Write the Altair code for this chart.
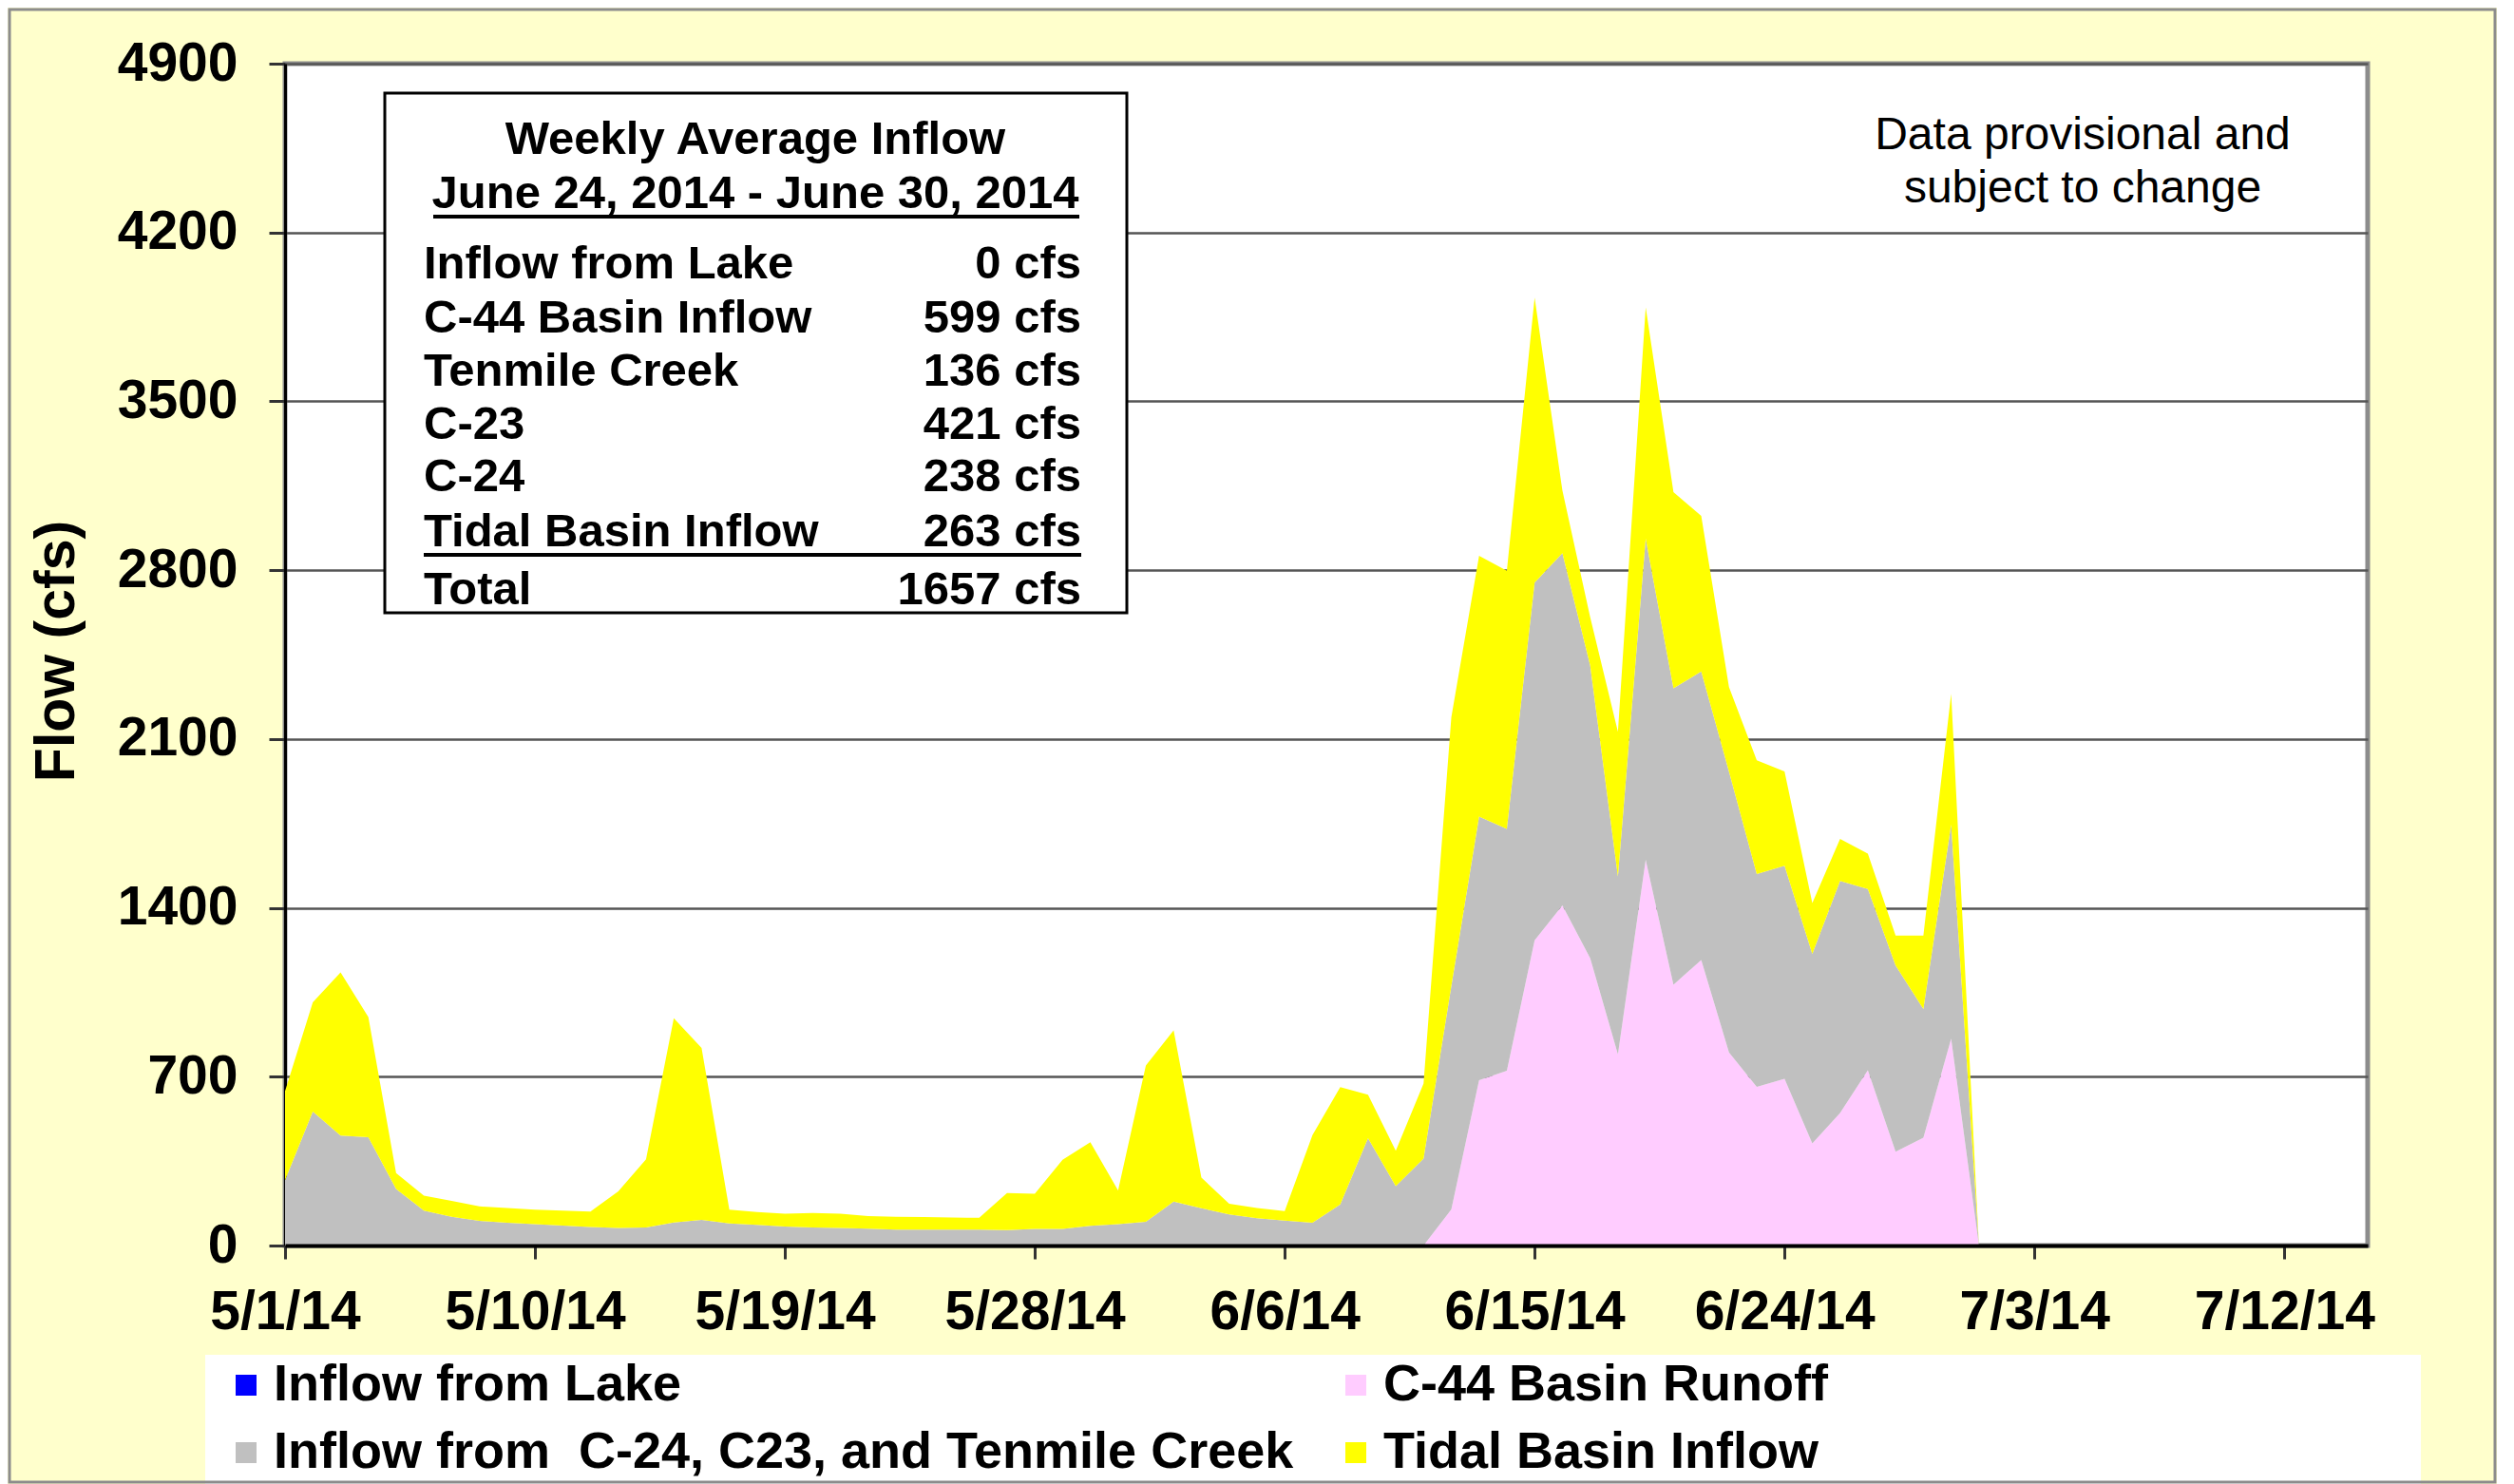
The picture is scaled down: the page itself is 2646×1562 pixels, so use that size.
import altair as alt
import pandas as pd

FONT = "Liberation Sans"

# ---------------- data ----------------
start_date = "2014-05-01"
n_days = 62

c44_runoff = [0, 0, 0, 0, 0, 0, 0, 0, 0, 0,
              0, 0, 0, 0, 0, 0, 0, 0, 0, 0,
              0, 0, 0, 0, 0, 0, 0, 0, 0, 0,
              0, 0, 0, 0, 0, 0, 0, 0, 0, 0,
              0, 0, 150, 685, 725, 1265, 1410, 1192, 793, 1599,
              1081, 1184, 801, 658, 691, 423, 549, 727, 389, 447,
              858, 0]
c24_c23_tenmile = [271, 555, 456, 449, 234, 145, 119, 102, 95, 89,
                   83, 77, 73, 75, 96, 106, 92, 86, 79, 75,
                   73, 70, 66, 66, 66, 66, 64, 69, 69, 82,
                   89, 98, 182, 155, 129, 113, 103, 95, 170, 445,
                   246, 360, 925, 1093, 1002, 1483, 1460, 1214, 737, 1332,
                   1229, 1196, 1164, 882, 884, 786, 963, 751, 772, 534,
                   887, 0]
tidal_inflow = [369, 453, 676, 498, 66, 62, 66, 60, 61, 60,
                62, 64, 152, 282, 846, 713, 57, 53, 53, 60,
                59, 52, 53, 52, 50, 49, 154, 146, 286, 346,
                139, 648, 710, 127, 44, 43, 40, 363, 487, 180,
                147, 312, 1115, 1082, 1071, 1182, 260, 200, 600, 959,
                814, 645, 350, 472, 391, 211, 174, 147, 124, 304,
                543, 0]
lake_inflow = [0, 0, 0, 0, 0, 0, 0, 0, 0, 0,
               0, 0, 0, 0, 0, 0, 0, 0, 0, 0,
               0, 0, 0, 0, 0, 0, 0, 0, 0, 0,
               0, 0, 0, 0, 0, 0, 0, 0, 0, 0,
               0, 0, 0, 0, 0, 0, 0, 0, 0, 0,
               0, 0, 0, 0, 0, 0, 0, 0, 0, 0,
               0, 0]

series_names = ["Inflow from Lake", "C-44 Basin Runoff",
                "Inflow from\u00a0 C-24, C23, and Tenmile Creek", "Tidal Basin Inflow"]
series_colors = ["#0000FF", "#FFCCFF", "#C0C0C0", "#FFFF00"]
stack_rank = [0, 1, 2, 3]

tick_dates = ["2014-05-01", "2014-05-10", "2014-05-19", "2014-05-28", "2014-06-06",
              "2014-06-15", "2014-06-24", "2014-07-03", "2014-07-12"]
x_domain = ["2014-05-01", "2014-07-15"]
y_ticks = [0, 700, 1400, 2100, 2800, 3500, 4200, 4900]

box_title = "Weekly Average Inflow"
box_period = "June 24, 2014 - June 30, 2014"
box_labels = ["Inflow from Lake", "C-44 Basin Inflow", "Tenmile Creek", "C-23", "C-24",
              "Tidal Basin Inflow", "Total"]
box_values = ["0 cfs", "599 cfs", "136 cfs", "421 cfs", "238 cfs", "263 cfs", "1657 cfs"]
note_lines = ["Data provisional and", "subject to change"]

# ---------------- build table ----------------
dates = pd.date_range(start_date, periods=n_days, freq="D")
series_values = [lake_inflow, c44_runoff, c24_c23_tenmile, tidal_inflow]
records = []
for name, rank, vals in zip(series_names, stack_rank, series_values):
    for d, v in zip(dates, vals):
        records.append({"date": d, "series": name, "rank": rank, "value": v})
df = pd.DataFrame(records)


def dt(s):
    y, m, d = (int(p) for p in s.split("-"))
    return alt.DateTime(year=y, month=m, date=d)


one = pd.DataFrame({"k": [0]})

W, H = 2192, 1244

# ---------------- main area chart ----------------
area = alt.Chart(df).mark_area(interpolate="linear").encode(
    x=alt.X("date:T", title=None,
            scale=alt.Scale(domain=[dt(x_domain[0]), dt(x_domain[1])]),
            axis=alt.Axis(values=[dt(s) for s in tick_dates], format="%-m/%-d/%y",
                          labelFont=FONT, labelFontSize=57, labelFontWeight="bold",
                          labelColor="black", labelPadding=28, tickSize=14, tickWidth=3,
                          tickColor="#333333", domainColor="black", domainWidth=4,
                          grid=False, labelFlush=False, labelOverlap=False,
                          labelLimit=1000, zindex=1)),
    y=alt.Y("value:Q", stack="zero",
            scale=alt.Scale(domain=[0, 4900], nice=False),
            axis=alt.Axis(values=y_ticks, title="Flow (cfs)", format="d",
                          labelFont=FONT, labelFontSize=57, labelFontWeight="bold",
                          labelColor="black", labelPadding=33, tickSize=17, tickWidth=3,
                          tickColor="#333333", domainColor="black", domainWidth=3,
                          grid=True, gridColor="#555555", gridWidth=2.5,
                          titleFont=FONT, titleFontSize=59, titleFontWeight="bold",
                          titleColor="black", titleX=-241, titleY=618, titleAngle=270,
                          titleAlign="center", titleBaseline="middle", zindex=0)),
    color=alt.Color("series:N",
                    scale=alt.Scale(domain=series_names, range=series_colors),
                    legend=alt.Legend(title=None, orient="none", legendX=-68, legendY=1364,
                                      columns=2, direction="horizontal",
                                      symbolType="square", symbolSize=484,
                                      symbolStrokeWidth=0, labelFont=FONT, labelFontSize=54,
                                      labelFontWeight="bold", labelColor="black",
                                      labelOffset=2, labelLimit=3000, columnPadding=38,
                                      rowPadding=17, padding=0, zindex=1)),
    order=alt.Order("rank:Q", sort="ascending"),
)

# legend background band
legend_bg = alt.Chart(one).mark_rect(fill="white").encode(
    x=alt.value(-84), x2=alt.value(2248), y=alt.value(1359), y2=alt.value(1500))

# outer figure border
outer = alt.Chart(one).mark_rect(fillOpacity=0, stroke="#8c8c8c", strokeWidth=3).encode(
    x=alt.value(-290), x2=alt.value(2326), y=alt.value(-57), y2=alt.value(1493))

# summary box
box = alt.Chart(one).mark_rect(fill="white", stroke="black", strokeWidth=3).encode(
    x=alt.value(105), x2=alt.value(886), y=alt.value(31), y2=alt.value(578))


def text_at(txt, x, y, size=49, weight="bold", align="left"):
    return alt.Chart(one).mark_text(text=txt, font=FONT, fontSize=size, fontWeight=weight,
                                    align=align, baseline="middle", color="black").encode(
        x=alt.value(x), y=alt.value(y))


def hline(x1, x2, y, w=4):
    return alt.Chart(one).mark_rule(color="black", strokeWidth=w).encode(
        x=alt.value(x1), x2=alt.value(x2), y=alt.value(y))


texts = [text_at(box_title, 495, 80, align="center"),
         text_at(box_period, 495, 137, align="center")]
row_y = [211, 268, 324, 380, 435, 493, 554]
for lab, val, yy in zip(box_labels, box_values, row_y):
    texts.append(text_at(lab, 146, yy))
    texts.append(text_at(val, 838, yy, align="right"))
rules = [hline(156, 836, 161), hline(146, 838, 517)]

notes = [text_at(note_lines[0], 1892, 76, size=48, weight="normal", align="center"),
         text_at(note_lines[1], 1892, 132, size=48, weight="normal", align="center")]

chart = alt.layer(legend_bg, area, box, *texts, *rules, *notes, outer).properties(
    width=W, height=H,
    padding={"left": 292, "top": 59, "right": 136, "bottom": 251},
    autosize=alt.AutoSizeParams(type="none"),
    background="#FFFFCC",
).configure_view(fill="white", stroke="#8c8c8c", strokeWidth=5)

chart.save("out.html", embed_options={"renderer": "svg", "actions": False})
